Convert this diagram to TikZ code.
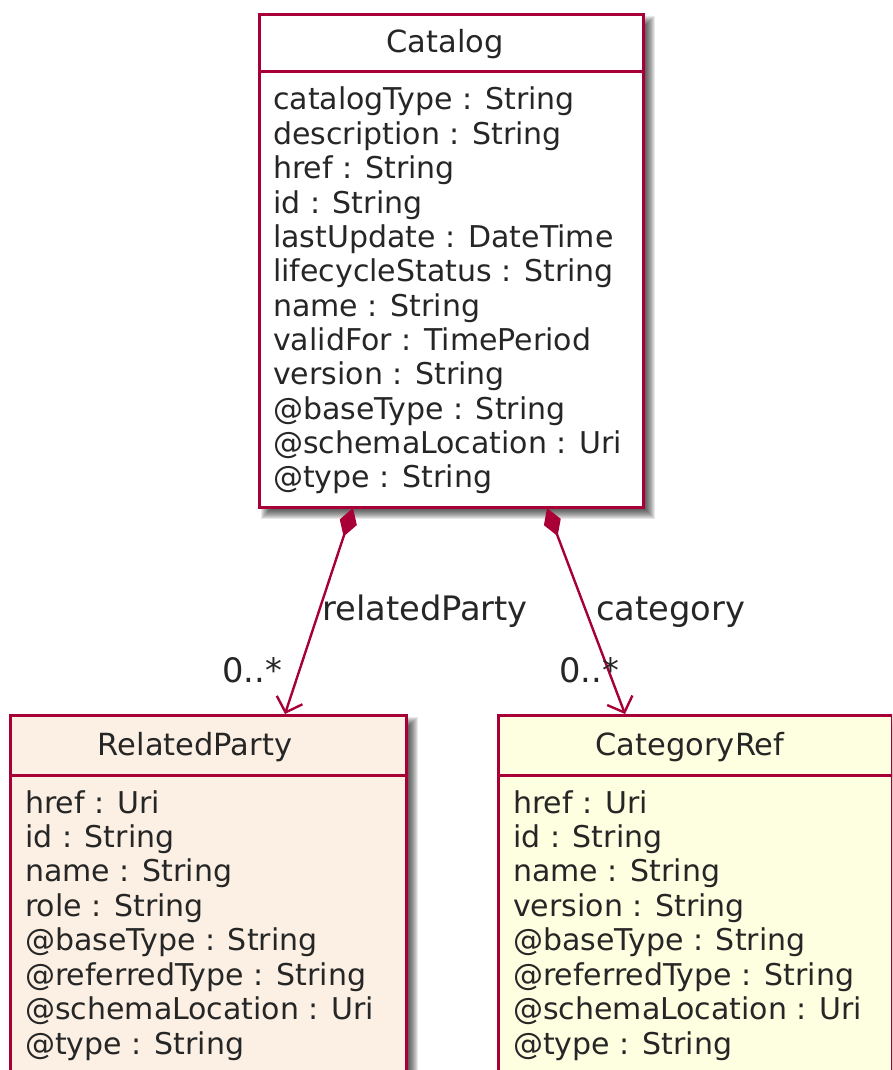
\documentclass[tikz,border=0pt]{standalone}
\usepackage{fontspec}
\setmainfont{DejaVu Sans}
\usetikzlibrary{arrows.meta}
\definecolor{umlborder}{HTML}{A80036}
\definecolor{rpfill}{HTML}{FBF0E3}
\definecolor{crfill}{HTML}{FEFEE0}
\newcommand\myshadow[4]{%
  \foreach \s in {-5,-4,...,5}{%
    \fill[black,opacity=0.09] ({#1+8-\s},{#2+8-\s}) rectangle ({#3+8+\s},{#4+8+\s});}}
\tikzset{
  classbox/.style={draw=umlborder, line width=3pt, rectangle, inner sep=0pt, anchor=north west},
  sepline/.style={draw=umlborder, line width=3pt},
  attr/.style={anchor=base west, inner sep=0pt, font=\fontsize{30}{34}\selectfont, text=black!85},
  ttl/.style={anchor=base, inner sep=0pt, font=\fontsize{30.5}{34}\selectfont, text=black!85},
  lbl/.style={anchor=base west, inner sep=0pt, font=\fontsize{33.7}{38}\selectfont, text=black!85},
  comp/.style={draw=umlborder, line width=2.4pt, {Diamond[length=30pt,width=18pt,fill=umlborder]}-{Straight Barb[length=13pt,width=27pt,line width=2.4pt]}},
}
\begin{document}
\begin{tikzpicture}[x=1pt,y=-1pt]
\useasboundingbox (0,0) rectangle (892,1070);
\clip (0,0) rectangle (892,1070);
% shadows
\myshadow{258}{13}{642}{506}
\myshadow{9}{714}{405}{1090}
\myshadow{497}{714}{891}{1090}
% Catalog
\node[classbox, fill=white, minimum width=384pt, minimum height=493pt] (catalog) at (258,13) {};
\draw[sepline] ([yshift=-59pt]catalog.north west) -- ([yshift=-59pt]catalog.north east);
\node[ttl] (catalogT) at (445,53) {Catalog};
\foreach \t [count=\i from 0] in {catalogType : String, description : String, href : String, id : String, lastUpdate : DateTime, lifecycleStatus : String, name : String, validFor : TimePeriod, version : String, @baseType : String, @schemaLocation : Uri, @type : String}
  \node[attr] (cat\i) at (273,{110+34.36*\i}) {\t};
% RelatedParty
\node[classbox, fill=rpfill, minimum width=396pt, minimum height=376pt] (related) at (9,714) {};
\draw[sepline] ([yshift=-61pt]related.north west) -- ([yshift=-61pt]related.north east);
\node[ttl] (relatedT) at (195,755) {RelatedParty};
\foreach \t [count=\i from 0] in {href : Uri, id : String, name : String, role : String, @baseType : String, @referredType : String, @schemaLocation : Uri, @type : String}
  \node[attr] (rp\i) at (25,{813+34.43*\i}) {\t};
% CategoryRef
\node[classbox, fill=crfill, minimum width=394pt, minimum height=376pt] (catref) at (497,714) {};
\draw[sepline] ([yshift=-61pt]catref.north west) -- ([yshift=-61pt]catref.north east);
\node[ttl] (catrefT) at (690,755) {CategoryRef};
\foreach \t [count=\i from 0] in {href : Uri, id : String, name : String, version : String, @baseType : String, @referredType : String, @schemaLocation : Uri, @type : String}
  \node[attr] (cr\i) at (513,{813+34.43*\i}) {\t};
% connectors
\draw[comp] ([xshift=95pt,yshift=1pt]catalog.south west) -- ([xshift=276pt]related.north west);
\draw[comp] ([xshift=289pt,yshift=1pt]catalog.south west) -- ([xshift=128pt]catref.north west);
% labels
\node[lbl] (l1) at (322,620) {relatedParty};
\node[lbl] (m1) at (222,682) {0..*};
\node[lbl] (l2) at (596,620) {category};
\node[lbl] (m2) at (559,682) {0..*};
\end{tikzpicture}
\end{document}
